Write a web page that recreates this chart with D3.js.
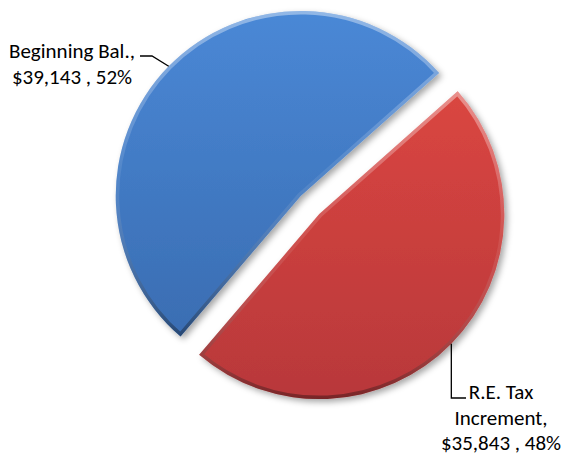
<!DOCTYPE html>
<html>
<head>
<meta charset="utf-8">
<script src="https://cdn.jsdelivr.net/npm/d3@7"></script>
<style>
  body { margin: 0; background: #fff; }
  svg { display: block; }
  .lbl { font-family: Carlito, Calibri, Lato, sans-serif; font-size: 21px; fill: #000; }
</style>
</head>
<body>
<svg id="chart" width="566" height="456"></svg>
<script>
// data
const categories = ['Beginning Bal.', 'R.E. Tax Increment'];
const values = [39143, 35843];
const labelNames = [['Beginning Bal.,'], ['R.E. Tax', 'Increment,']];
const colorsTop = ['#4a88d6', '#da4641'];
const colorsBottom = ['#3a6db2', '#b8383a'];

const width = 566, height = 456;
const cx = 310, cy = 205, radius = 185, explode = 13;
const startDeg = 220.5;

let svg = d3.select('#chart');
let defs = svg.append('defs');

let total = d3.sum(values);
let fmtMoney = d3.format('$,');

let pie = d3.pie()
    .sort(null)
    .startAngle(startDeg * Math.PI / 180)
    .endAngle(startDeg * Math.PI / 180 + 2 * Math.PI);
let arcs = pie(values);

let arc = d3.arc().innerRadius(0).outerRadius(radius);

// shadow
let shadow = defs.append('filter').attr('id', 'shadow')
    .attr('x', '-20%').attr('y', '-20%').attr('width', '140%').attr('height', '140%');
shadow.append('feDropShadow')
    .attr('dx', 3).attr('dy', 3).attr('stdDeviation', 3)
    .attr('flood-color', '#000').attr('flood-opacity', 0.35);

// bevel edge gradient
let edge = defs.append('linearGradient').attr('id', 'edge')
    .attr('x1', 0).attr('y1', 0).attr('x2', 0).attr('y2', 1);
edge.append('stop').attr('offset', '0%').attr('stop-color', '#fff').attr('stop-opacity', 0.4);
edge.append('stop').attr('offset', '50%').attr('stop-color', '#fff').attr('stop-opacity', 0.08);
edge.append('stop').attr('offset', '100%').attr('stop-color', '#000').attr('stop-opacity', 0.35);

arcs.forEach(function(d, i) {
    let g = defs.append('linearGradient').attr('id', 'fill-' + i)
        .attr('x1', 0).attr('y1', 0).attr('x2', 0).attr('y2', 1);
    g.append('stop').attr('offset', '0%').attr('stop-color', colorsTop[i]);
    g.append('stop').attr('offset', '100%').attr('stop-color', colorsBottom[i]);
});

function offsetOf(d) {
    let mid = (d.startAngle + d.endAngle) / 2;
    return [cx + explode * Math.sin(mid), cy - explode * Math.cos(mid)];
}

let slices = svg.selectAll('g.slice')
    .data(arcs)
    .enter().append('g')
    .attr('class', 'slice')
    .attr('transform', function(d) { let o = offsetOf(d); return 'translate(' + o[0] + ',' + o[1] + ')'; });

slices.each(function(d, i) {
    let s = d3.select(this);
    s.append('clipPath').attr('id', 'clip-' + i)
        .append('path').attr('d', arc(d));
    s.append('path')
        .attr('d', arc(d))
        .attr('fill', 'url(#fill-' + i + ')')
        .attr('filter', 'url(#shadow)');
    s.append('path')
        .attr('d', arc(d))
        .attr('fill', 'none')
        .attr('stroke', 'url(#edge)')
        .attr('stroke-width', 7)
        .attr('stroke-linejoin', 'round')
        .attr('clip-path', 'url(#clip-' + i + ')');
});

// labels and leader lines
const labelPos = [[72, 58], [501, 399]];
const lineHeight = 25.5;

arcs.forEach(function(d, i) {
    let o = offsetOf(d);
    let mid = (d.startAngle + d.endAngle) / 2;
    let ax = o[0] + radius * Math.sin(mid);
    let ay = o[1] - radius * Math.cos(mid);
    let pct = Math.round(values[i] / total * 100);
    let lines = labelNames[i].concat([fmtMoney(values[i]) + ' , ' + pct + '%']);

    let pts;
    if (i === 0) {
        pts = [[ax, ay], [152, 56], [140, 56]];
    } else {
        pts = [[ax, ay], [ax, 398], [466, 398]];
    }
    svg.append('path')
        .attr('d', d3.line()(pts))
        .attr('fill', 'none')
        .attr('stroke', '#000')
        .attr('stroke-width', 1.3);

    let t = svg.append('text').attr('class', 'lbl').attr('text-anchor', 'middle');
    lines.forEach(function(l, j) {
        t.append('tspan')
            .attr('x', labelPos[i][0])
            .attr('y', labelPos[i][1] + j * lineHeight)
            .text(l);
    });
});
</script>
</body>
</html>
